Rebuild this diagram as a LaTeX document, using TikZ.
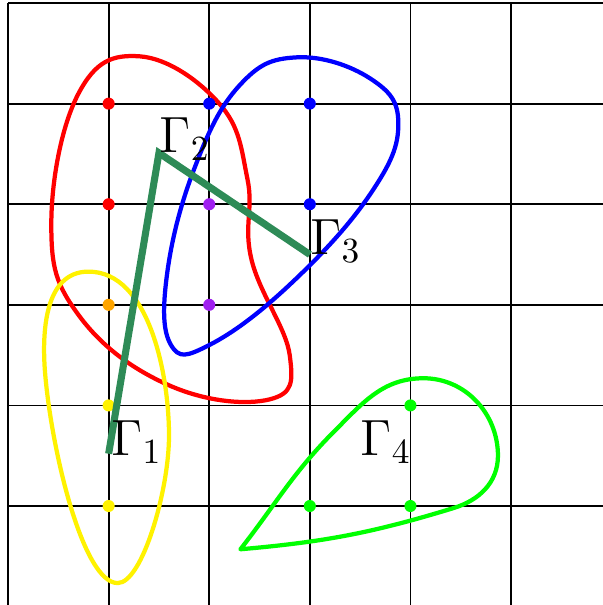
\documentclass[tikz,border=0pt]{standalone}
\usepackage{amsmath}
\usepackage{tikz}
\usetikzlibrary{positioning}
\definecolor{cPath}{RGB}{46,139,87}
\definecolor{cOrange}{RGB}{255,165,0}
\definecolor{cPurple}{RGB}{160,32,240}
\tikzset{
	gridline/.style ={line width=0.5pt, black},
	loopcurve/.style={line width=1.2pt, line join=round},
	pathline/.style ={line width=2pt, cPath, line join=miter},
	gammalabel/.style={anchor=base west, inner sep=0pt, font=\Large},
}

\begin{document}
\begin{tikzpicture}
	\useasboundingbox (-0.08,0.016) rectangle (5.914,6.03);
	\clip (-0.08,0.016) rectangle (5.914,6.03);
	% ---------------- grid ----------------
	\draw[gridline] (0,0) grid (6,6);
	% ---------------- loops ----------------
	\draw[loopcurve, red] plot[smooth cycle, tension=0.7] coordinates {
		(1.31,5.47) (2.1,5.0) (2.38,4.25) (2.42,3.45) (2.8,2.5) (2.6,2.06)
		(1.6,2.2) (0.7,2.9) (0.43,3.8) (0.7,5.1)};
	\draw[loopcurve, blue] plot[smooth cycle, tension=0.7] coordinates {
		(2.87,5.46) (3.6,5.25) (3.88,4.8) (3.6,4.1) (2.8,3.2) (2.0,2.6)
		(1.62,2.6) (1.58,3.3) (1.85,4.35) (2.3,5.18)};
	\draw[loopcurve, yellow] (0.8,3.33) to[out=0,in=90,looseness=0.85] (1.6,1.7)
		to[out=-90,in=0,out looseness=0.9,in looseness=0.4] (1.09,0.234)
		to[out=180,in=-85,out looseness=0.4,in looseness=0.9] (0.37,2.3)
		to[out=95,in=180] cycle;
	\draw[loopcurve, green] (2.31,0.57) to[out=5,in=197] (4.43,0.98)
		to[out=17,in=-90] (4.87,1.5) to[out=90,in=0] (4.13,2.27)
		to[out=180,in=45] (3.25,1.75) to[out=225,in=52] cycle;
	% ---------------- lattice points ----------------
	\foreach \x/\y/\c in {1/5/red, 1/4/red, 2/5/blue, 3/5/blue, 3/4/blue,
		2/4/cPurple, 2/3/cPurple, 1/3/cOrange, 1/2/yellow, 1/1/yellow,
		4/2/green, 3/1/green, 4/1/green}
		\fill[\c] (\x,\y) circle (0.06);
	% ---------------- path ----------------
	\coordinate (g1) at (1,1.52);
	\coordinate (g2) at (1.5,4.51);
	\coordinate (g3) at (3,3.5);
	\draw[pathline] (g1) -- (g2) -- (g3);
	\node[gammalabel] (lab1) at (1.02,1.5) {$\Gamma_1$};
	\node[gammalabel] (lab2) at (g2) {$\Gamma_2$};
	\node[gammalabel] (lab3) at (g3) {$\Gamma_3$};
	\node[gammalabel] (lab4) at (3.5,1.5) {$\Gamma_4$};
\end{tikzpicture}
\end{document}
